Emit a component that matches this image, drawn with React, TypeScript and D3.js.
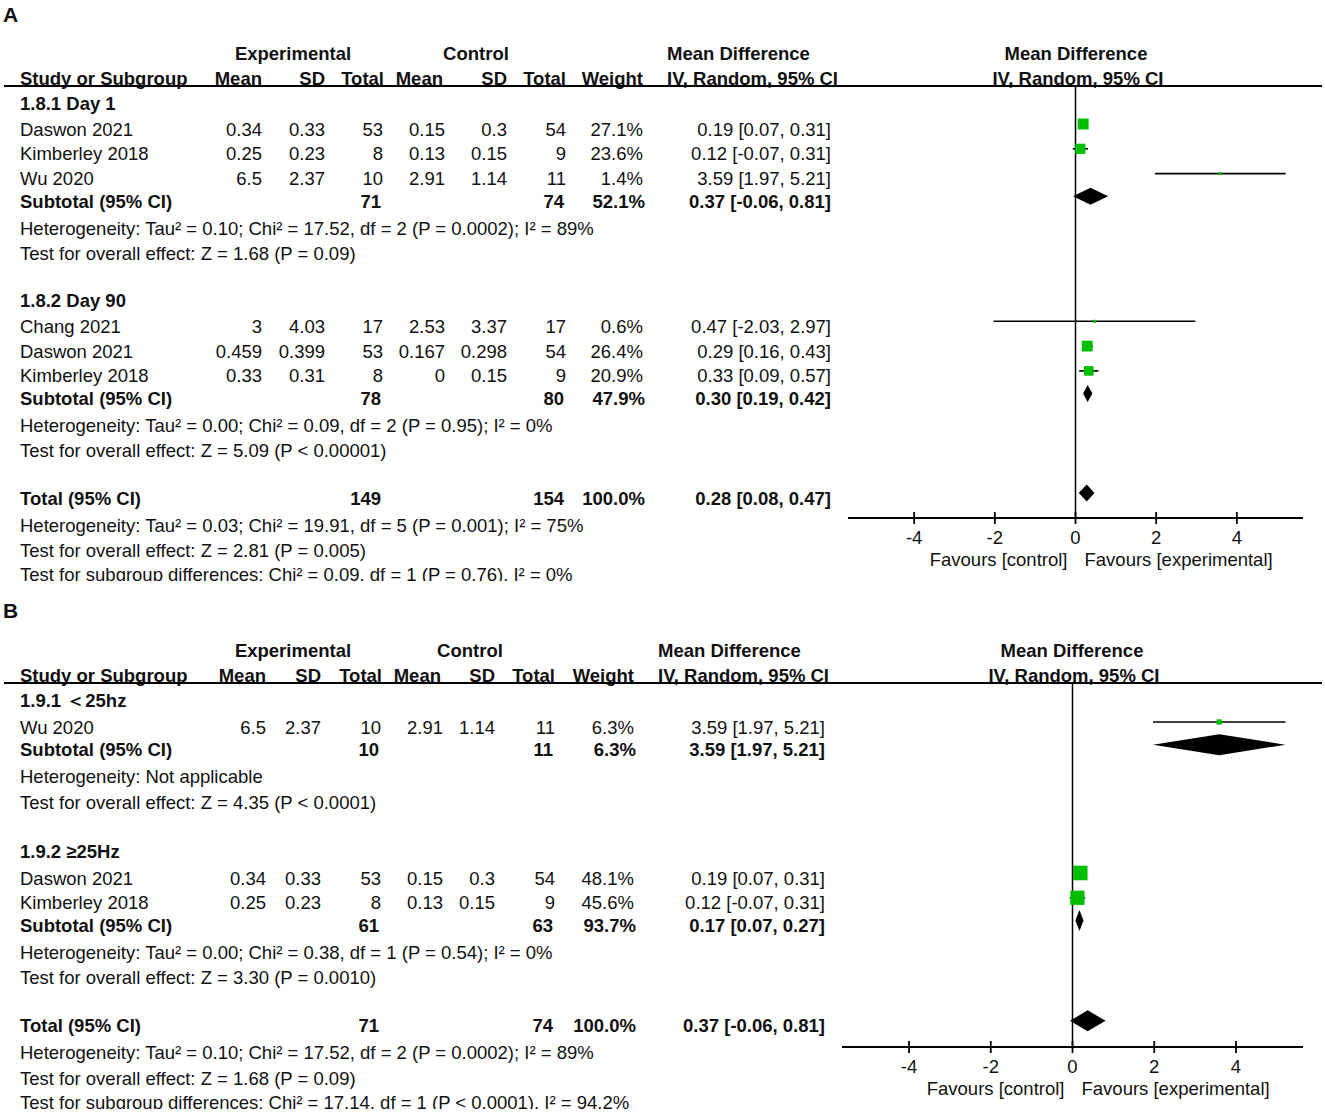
import React from 'react';
import * as d3 from 'd3';

type Study = { name: string; eMean: number; eSD: number; eN: number; cMean: number; cSD: number; cN: number; weight: number; md: number; lo: number; hi: number };
type Pooled = { label: string; eN: number; cN: number; weight: number; md: number; lo: number; hi: number };

// ---------- Panel A data ----------
const groupA1 = '1.8.1 Day 1';
const studiesA1: Study[] = [
  { name: 'Daswon 2021', eMean: 0.34, eSD: 0.33, eN: 53, cMean: 0.15, cSD: 0.3, cN: 54, weight: 27.1, md: 0.19, lo: 0.07, hi: 0.31 },
  { name: 'Kimberley 2018', eMean: 0.25, eSD: 0.23, eN: 8, cMean: 0.13, cSD: 0.15, cN: 9, weight: 23.6, md: 0.12, lo: -0.07, hi: 0.31 },
  { name: 'Wu 2020', eMean: 6.5, eSD: 2.37, eN: 10, cMean: 2.91, cSD: 1.14, cN: 11, weight: 1.4, md: 3.59, lo: 1.97, hi: 5.21 },
];
const subtotalA1: Pooled = { label: 'Subtotal (95% CI)', eN: 71, cN: 74, weight: 52.1, md: 0.37, lo: -0.06, hi: 0.81 };
const statsA1 = [
  'Heterogeneity: Tau² = 0.10; Chi² = 17.52, df = 2 (P = 0.0002); I² = 89%',
  'Test for overall effect: Z = 1.68 (P = 0.09)',
];
const groupA2 = '1.8.2 Day 90';
const studiesA2: Study[] = [
  { name: 'Chang 2021', eMean: 3, eSD: 4.03, eN: 17, cMean: 2.53, cSD: 3.37, cN: 17, weight: 0.6, md: 0.47, lo: -2.03, hi: 2.97 },
  { name: 'Daswon 2021', eMean: 0.459, eSD: 0.399, eN: 53, cMean: 0.167, cSD: 0.298, cN: 54, weight: 26.4, md: 0.29, lo: 0.16, hi: 0.43 },
  { name: 'Kimberley 2018', eMean: 0.33, eSD: 0.31, eN: 8, cMean: 0, cSD: 0.15, cN: 9, weight: 20.9, md: 0.33, lo: 0.09, hi: 0.57 },
];
const subtotalA2: Pooled = { label: 'Subtotal (95% CI)', eN: 78, cN: 80, weight: 47.9, md: 0.30, lo: 0.19, hi: 0.42 };
const statsA2 = [
  'Heterogeneity: Tau² = 0.00; Chi² = 0.09, df = 2 (P = 0.95); I² = 0%',
  'Test for overall effect: Z = 5.09 (P < 0.00001)',
];
const totalA: Pooled = { label: 'Total (95% CI)', eN: 149, cN: 154, weight: 100.0, md: 0.28, lo: 0.08, hi: 0.47 };
const statsTotalA = [
  'Heterogeneity: Tau² = 0.03; Chi² = 19.91, df = 5 (P = 0.001); I² = 75%',
  'Test for overall effect: Z = 2.81 (P = 0.005)',
];
const subgroupDiffA = 'Test for subgroup differences: Chi² = 0.09, df = 1 (P = 0.76), I² = 0%';

// ---------- Panel B data ----------
const groupB1 = '1.9.1 ＜25hz';
const studiesB1: Study[] = [
  { name: 'Wu 2020', eMean: 6.5, eSD: 2.37, eN: 10, cMean: 2.91, cSD: 1.14, cN: 11, weight: 6.3, md: 3.59, lo: 1.97, hi: 5.21 },
];
const subtotalB1: Pooled = { label: 'Subtotal (95% CI)', eN: 10, cN: 11, weight: 6.3, md: 3.59, lo: 1.97, hi: 5.21 };
const statsB1 = ['Heterogeneity: Not applicable', 'Test for overall effect: Z = 4.35 (P < 0.0001)'];
const groupB2 = '1.9.2 ≥25Hz';
const studiesB2: Study[] = [
  { name: 'Daswon 2021', eMean: 0.34, eSD: 0.33, eN: 53, cMean: 0.15, cSD: 0.3, cN: 54, weight: 48.1, md: 0.19, lo: 0.07, hi: 0.31 },
  { name: 'Kimberley 2018', eMean: 0.25, eSD: 0.23, eN: 8, cMean: 0.13, cSD: 0.15, cN: 9, weight: 45.6, md: 0.12, lo: -0.07, hi: 0.31 },
];
const subtotalB2: Pooled = { label: 'Subtotal (95% CI)', eN: 61, cN: 63, weight: 93.7, md: 0.17, lo: 0.07, hi: 0.27 };
const statsB2 = [
  'Heterogeneity: Tau² = 0.00; Chi² = 0.38, df = 1 (P = 0.54); I² = 0%',
  'Test for overall effect: Z = 3.30 (P = 0.0010)',
];
const totalB: Pooled = { label: 'Total (95% CI)', eN: 71, cN: 74, weight: 100.0, md: 0.37, lo: -0.06, hi: 0.81 };
const statsTotalB = [
  'Heterogeneity: Tau² = 0.10; Chi² = 17.52, df = 2 (P = 0.0002); I² = 89%',
  'Test for overall effect: Z = 1.68 (P = 0.09)',
];
const subgroupDiffB = 'Test for subgroup differences: Chi² = 17.14, df = 1 (P < 0.0001), I² = 94.2%';

// ---------- Axis ----------
const axisDomain: [number, number] = [-5.64, 5.64];
const axisTicks = [-4, -2, 0, 2, 4];
const favLeft = 'Favours [control]';
const favRight = 'Favours [experimental]';

// ---------- Layout ----------
const FONT = "'Liberation Sans', Arial, Helvetica, sans-serif";
const FS = 18.5;
const GREEN = '#00bf00';
const INK = '#111';

type Row =
  | { kind: 'group'; text: string }
  | { kind: 'study'; s: Study }
  | { kind: 'subtotal' | 'total'; p: Pooled }
  | { kind: 'het' | 'test' | 'subdiff'; text: string };

const baseSteps: Record<string, number> = {
  'group>study': 26,
  'study>study': 24.8,
  'study>subtotal': 22.7,
  'subtotal>het': 27,
  'het>test': 25,
  'test>group': 47,
  'test>total': 47.5,
  'total>het': 27,
  'test>subdiff': 24.2,
};

function buildRows(groups: { title: string; studies: Study[]; sub: Pooled; stats: string[] }[], total: Pooled, totalStats: string[], diff: string): Row[] {
  const rows: Row[] = [];
  groups.forEach((g) => {
    rows.push({ kind: 'group', text: g.title });
    g.studies.forEach((s) => rows.push({ kind: 'study', s }));
    rows.push({ kind: 'subtotal', p: g.sub });
    rows.push({ kind: 'het', text: g.stats[0] });
    rows.push({ kind: 'test', text: g.stats[1] });
  });
  rows.push({ kind: 'total', p: total });
  rows.push({ kind: 'het', text: totalStats[0] });
  rows.push({ kind: 'test', text: totalStats[1] });
  rows.push({ kind: 'subdiff', text: diff });
  return rows;
}

const rowsA = buildRows(
  [
    { title: groupA1, studies: studiesA1, sub: subtotalA1, stats: statsA1 },
    { title: groupA2, studies: studiesA2, sub: subtotalA2, stats: statsA2 },
  ],
  totalA, statsTotalA, subgroupDiffA
);
const rowsB = buildRows(
  [
    { title: groupB1, studies: studiesB1, sub: subtotalB1, stats: statsB1 },
    { title: groupB2, studies: studiesB2, sub: subtotalB2, stats: statsB2 },
  ],
  totalB, statsTotalB, subgroupDiffB
);

type Cfg = {
  id: string; label: string; labelY: number; h1Y: number; h2Y: number; lineY: number; firstRow: number;
  stepOverrides: Record<string, number>; xRange: [number, number]; axisY: number; tickLabelY: number; favY: number;
  cols: { eMean: number; eSD: number; eN: number; cMean: number; cSD: number; cN: number; weight: number; ci: number };
  hdr: { exp: number; ctl: number; mdLeft: number; rightCenter: number };
  diamondH: number; clipTop: number; clipBottom: number; rows: Row[];
};

const cfgA: Cfg = {
  id: 'A', label: 'A', labelY: 22, h1Y: 59.5, h2Y: 84.5, lineY: 86, firstRow: 103, stepOverrides: {},
  xRange: [848, 1303], axisY: 518, tickLabelY: 544, favY: 566,
  cols: { eMean: 262, eSD: 325, eN: 383, cMean: 445, cSD: 507, cN: 566, weight: 643, ci: 831 },
  hdr: { exp: 293, ctl: 476, mdLeft: 667, rightCenter: 1078 },
  diamondH: 17, clipTop: 0, clipBottom: 581, rows: rowsA,
};
const cfgB: Cfg = {
  id: 'B', label: 'B', labelY: 618, h1Y: 656.5, h2Y: 681.5, lineY: 683, firstRow: 700,
  stepOverrides: { 'group>study': 27, 'test>group': 49, 'test>total': 48, 'total>het': 27, 'het>test': 25.3 },
  xRange: [842, 1303], axisY: 1047, tickLabelY: 1073, favY: 1095,
  cols: { eMean: 266, eSD: 321, eN: 381, cMean: 443, cSD: 495, cN: 555, weight: 634, ci: 825 },
  hdr: { exp: 293, ctl: 470, mdLeft: 658, rightCenter: 1074 },
  diamondH: 21, clipTop: 590, clipBottom: 1109, rows: rowsB,
};

const fmt2 = (v: number) => v.toFixed(2);
const ciText = (d: { md: number; lo: number; hi: number }) => `${fmt2(d.md)} [${fmt2(d.lo)}, ${fmt2(d.hi)}]`;

function Txt(props: { x: number; y: number; t: string | number; a?: 'start' | 'middle' | 'end'; b?: boolean; fs?: number }) {
  return (
    <text x={props.x} y={props.y} textAnchor={props.a ?? 'start'} fontWeight={props.b ? 'bold' : 'normal'}
      fontSize={props.fs ?? FS} fontFamily={FONT} fill={INK}>
      {String(props.t)}
    </text>
  );
}

function Panel({ cfg }: { cfg: Cfg }) {
  const x = d3.scaleLinear().domain(axisDomain).range(cfg.xRange);
  const x0 = x(0);
  const steps = { ...baseSteps, ...cfg.stepOverrides };
  // row centres
  const ys: number[] = [];
  cfg.rows.forEach((r, i) => {
    if (i === 0) ys.push(cfg.firstRow);
    else ys.push(ys[i - 1] + (steps[`${cfg.rows[i - 1].kind}>${r.kind}`] ?? 25));
  });
  const base = (y: number) => y + 6.5;
  const markY = (y: number) => y - 5;
  const sizeScale = d3.scaleSqrt().domain([0, 100]).range([0, 21]);
  const c = cfg.cols;
  const els: React.ReactNode[] = [];

  cfg.rows.forEach((r, i) => {
    const y = ys[i];
    const by = base(y);
    if (r.kind === 'group') {
      els.push(<Txt key={`g${i}`} x={20} y={by} t={r.text} b />);
    } else if (r.kind === 'study') {
      const s = r.s;
      els.push(
        <g key={`s${i}`}>
          <Txt x={20} y={by} t={s.name} />
          <Txt x={c.eMean} y={by} t={s.eMean} a="end" />
          <Txt x={c.eSD} y={by} t={s.eSD} a="end" />
          <Txt x={c.eN} y={by} t={s.eN} a="end" />
          <Txt x={c.cMean} y={by} t={s.cMean} a="end" />
          <Txt x={c.cSD} y={by} t={s.cSD} a="end" />
          <Txt x={c.cN} y={by} t={s.cN} a="end" />
          <Txt x={c.weight} y={by} t={`${s.weight.toFixed(1)}%`} a="end" />
          <Txt x={c.ci} y={by} t={ciText(s)} a="end" />
        </g>
      );
      const my = markY(y);
      const sz = Math.max(3, sizeScale(s.weight));
      els.push(
        <g key={`m${i}`}>
          <line x1={x(s.lo)} x2={x(s.hi)} y1={my} y2={my} stroke="#000" strokeWidth={1.6} />
          <rect x={x(s.md) - sz / 2} y={my - sz / 2} width={sz} height={sz} fill={GREEN} />
        </g>
      );
    } else if (r.kind === 'subtotal' || r.kind === 'total') {
      const p = r.p;
      els.push(
        <g key={`p${i}`}>
          <Txt x={20} y={by} t={p.label} b />
          <Txt x={c.eN - 2} y={by} t={p.eN} a="end" b />
          <Txt x={c.cN - 2} y={by} t={p.cN} a="end" b />
          <Txt x={c.weight + 2} y={by} t={`${p.weight.toFixed(1)}%`} a="end" b />
          <Txt x={c.ci} y={by} t={ciText(p)} a="end" b />
        </g>
      );
      const my = markY(y);
      const h = cfg.diamondH / 2;
      const pts = [[x(p.lo), my], [x(p.md), my - h], [x(p.hi), my], [x(p.md), my + h]];
      els.push(<polygon key={`d${i}`} points={pts.map((q) => q.join(',')).join(' ')} fill="#000" />);
    } else {
      els.push(<Txt key={`t${i}`} x={20} y={by} t={r.text} />);
    }
  });

  const clipId = `clip${cfg.id}`;
  return (
    <g>
      <defs>
        <clipPath id={clipId}>
          <rect x={0} y={cfg.clipTop} width={1325} height={cfg.clipBottom - cfg.clipTop} />
        </clipPath>
      </defs>
      <g clipPath={`url(#${clipId})`}>
        <Txt x={3} y={cfg.labelY} t={cfg.label} b fs={21} />
        {/* header row 1 */}
        <Txt x={cfg.hdr.exp} y={cfg.h1Y} t="Experimental" a="middle" b />
        <Txt x={cfg.hdr.ctl} y={cfg.h1Y} t="Control" a="middle" b />
        <Txt x={cfg.hdr.mdLeft} y={cfg.h1Y} t="Mean Difference" b />
        <Txt x={cfg.hdr.rightCenter - 2} y={cfg.h1Y} t="Mean Difference" a="middle" b />
        {/* header row 2 */}
        <Txt x={20} y={cfg.h2Y} t="Study or Subgroup" b />
        <Txt x={c.eMean} y={cfg.h2Y} t="Mean" a="end" b />
        <Txt x={c.eSD} y={cfg.h2Y} t="SD" a="end" b />
        <Txt x={c.eN + 1} y={cfg.h2Y} t="Total" a="end" b />
        <Txt x={c.cMean - 2} y={cfg.h2Y} t="Mean" a="end" b />
        <Txt x={c.cSD} y={cfg.h2Y} t="SD" a="end" b />
        <Txt x={c.cN} y={cfg.h2Y} t="Total" a="end" b />
        <Txt x={c.weight} y={cfg.h2Y} t="Weight" a="end" b />
        <Txt x={cfg.hdr.mdLeft} y={cfg.h2Y} t="IV, Random, 95% CI" b />
        <Txt x={cfg.hdr.rightCenter} y={cfg.h2Y} t="IV, Random, 95% CI" a="middle" b />
        <line x1={4} x2={1322} y1={cfg.lineY} y2={cfg.lineY} stroke="#000" strokeWidth={2} />
        {/* zero line */}
        <line x1={x0} x2={x0} y1={cfg.lineY} y2={cfg.axisY} stroke="#000" strokeWidth={1.5} />
        {els}
        {/* axis */}
        <line x1={cfg.xRange[0]} x2={cfg.xRange[1]} y1={cfg.axisY} y2={cfg.axisY} stroke="#000" strokeWidth={2} />
        {axisTicks.map((t) => (
          <g key={`tk${t}`}>
            <line x1={x(t)} x2={x(t)} y1={cfg.axisY - 6} y2={cfg.axisY + 6} stroke="#000" strokeWidth={1.8} />
            <Txt x={x(t)} y={cfg.tickLabelY} t={t} a="middle" />
          </g>
        ))}
        <Txt x={x0 - 8} y={cfg.favY} t={favLeft} a="end" />
        <Txt x={x0 + 9} y={cfg.favY} t={favRight} />
      </g>
    </g>
  );
}

export default function App() {
  return (
    <svg width={1325} height={1113} viewBox="0 0 1325 1113"
      style={{ position: 'absolute', left: 0, top: 0, background: '#fff' }}>
      <rect width={1325} height={1113} fill="#fff" />
      <Panel cfg={cfgA} />
      <Panel cfg={cfgB} />
    </svg>
  );
}
